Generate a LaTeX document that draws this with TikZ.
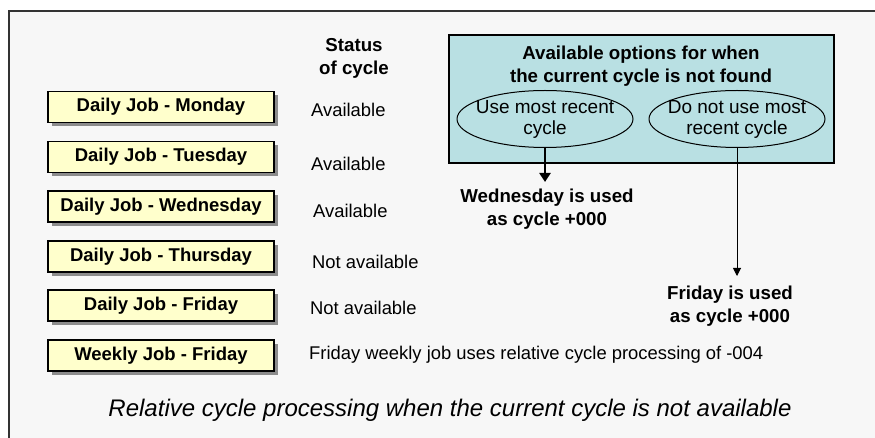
\documentclass[tikz,border=0pt]{standalone}
\usepackage{fontspec}
\setmainfont{Liberation Sans}
\usetikzlibrary{shapes.geometric,shadows,arrows.meta}
\definecolor{bgc}{HTML}{F7F7F7}
\definecolor{jobc}{HTML}{FFFFCC}
\definecolor{optc}{HTML}{B9E0E3}
\definecolor{shc}{HTML}{8C8C8C}
\tikzset{
  jobbox/.style={draw=black, line width=1.2pt, fill=jobc, minimum width=226pt, minimum height=31pt,
    inner sep=0pt, font=\fontsize{18.5}{20}\selectfont\bfseries,
    drop shadow={shadow xshift=4pt, shadow yshift=-4pt, fill=shc, opacity=1}},
  stat/.style={anchor=west, inner sep=0pt, font=\fontsize{18.4}{20}\selectfont},
  bold/.style={align=center, inner sep=0pt, font=\fontsize{18.7}{23}\selectfont\bfseries},
  opt/.style={draw=black, line width=1pt, ellipse, minimum width=176pt, minimum height=57pt,
    inner xsep=-8pt, inner ysep=-1pt, align=center, font=\fontsize{19}{21}\selectfont},
}
\begin{document}
\begin{tikzpicture}[x=1pt,y=-1pt]
\useasboundingbox (0,0) rectangle (875,438);
\fill[white] (0,0) rectangle (875,438);
\fill[bgc] (9,11) rectangle (875,438);
\draw[line width=1.5pt, black!80] (9,438) -- (9,11) -- (875,11);

\node[jobbox] (mon) at (161,107) {Daily Job - Monday};
\node[jobbox] (tue) at (161,157) {Daily Job - Tuesday};
\node[jobbox] (wed) at (161,206.5) {Daily Job - Wednesday};
\node[jobbox] (thu) at (161,256.5) {Daily Job - Thursday};
\node[jobbox] (fri) at (161,305.5) {Daily Job - Friday};
\node[jobbox] (wk) at (161,355.5) {Weekly Job - Friday};

\node[bold] (hd) at (354,58) {Status\\of cycle};

\node[stat] (s1) at (311,110) {Available};
\node[stat] (s2) at (311,164) {Available};
\node[stat] (s3) at (313,211) {Available};
\node[stat] (s4) at (312,262) {Not available};
\node[stat] (s5) at (310,308) {Not available};
\node[stat] (s6) at (309,355) {Friday weekly job uses relative cycle processing of -004};

\fill[optc] (449,35) rectangle (834,163);
\draw[line width=1.5pt] (449,35) rectangle (834,163);
\node[bold] (oh) at (641,66) {Available options for when\\the current cycle is not found};

\node[opt] (e1) at (545,119) {Use most recent\\cycle};
\node[opt] (e2) at (737,119) {Do not use most\\recent cycle};

\coordinate (a1) at (545,182);
\coordinate (a2) at (737,276);
\draw[line width=2.5pt, -{Triangle[length=9pt,width=11pt]}] (e1.south) -- (a1);
\draw[line width=1pt, -{Triangle[length=8pt,width=8pt]}] (e2.south) -- (a2);

\node[bold] (r1) at (547,209) {Wednesday is used\\as cycle +000};
\node[bold] (r2) at (730,306) {Friday is used\\as cycle +000};

\node[inner sep=0pt, font=\fontsize{24}{26}\selectfont\itshape] (cap) at (450,410) {Relative cycle processing when the current cycle is not available};
\end{tikzpicture}
\end{document}
